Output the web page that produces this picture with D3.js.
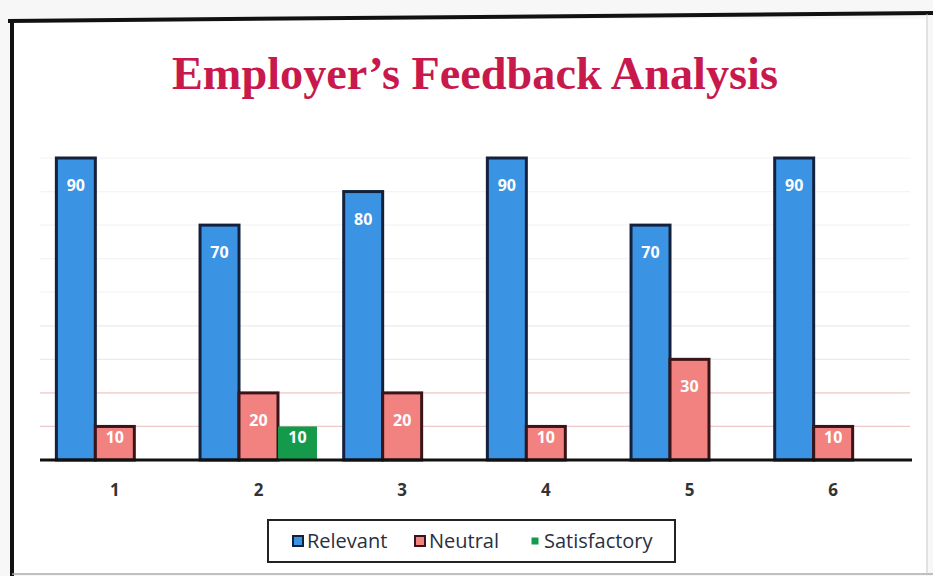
<!DOCTYPE html>
<meta charset="utf-8">
<script src="https://d3js.org/d3.v7.min.js"></script>
<style>
    body { margin: 0; background: #f7f7f7; }
    text { font-family: "Open Sans", sans-serif; }
</style>
<div id="base"></div>
<script>
    // chart data
    var groups = ["1", "2", "3", "4", "5", "6"];
    var seriesNames = ["Relevant", "Neutral", "Satisfactory"];
    var relevant = [90, 70, 80, 90, 70, 90];
    var neutral = [10, 20, 20, 10, 30, 10];
    var satisfactory = [null, 10, null, null, null, null];
    var colors = ["#3b93e4", "#f2827f", "#159a4c"];
    var strokes = ["#14213d", "#3a1418", "none"];

    var width = 933, height = 576;

    var svg = d3.select("#base")
        .append("svg")
        .attr("width", width)
        .attr("height", height);

    // slide frame
    svg.append("rect")
        .attr("x", 12).attr("y", 19)
        .attr("width", 914).attr("height", 556)
        .attr("fill", "white");
    svg.append("line")
        .attr("x1", 8).attr("y1", 21).attr("x2", 933).attr("y2", 13)
        .attr("stroke", "#111").attr("stroke-width", 4);
    svg.append("line")
        .attr("x1", 12).attr("y1", 19).attr("x2", 12).attr("y2", 576)
        .attr("stroke", "#111").attr("stroke-width", 4);
    svg.append("line")
        .attr("x1", 12).attr("y1", 574).attr("x2", 933).attr("y2", 574)
        .attr("stroke", "#aaa").attr("stroke-width", 1.5);
    svg.append("line")
        .attr("x1", 927).attr("y1", 14).attr("x2", 927).attr("y2", 574)
        .attr("stroke", "#ccc").attr("stroke-width", 1);

    // title
    svg.append("text")
        .attr("x", 475)
        .attr("y", 89)
        .attr("text-anchor", "middle")
        .style("font-family", "'Liberation Serif', 'Times New Roman', serif")
        .style("font-weight", "bold")
        .style("font-size", "46px")
        .attr("textLength", 606)
        .attr("lengthAdjust", "spacingAndGlyphs")
        .attr("fill", "#c8194c")
        .text("Employer\u2019s Feedback Analysis");

    var x0 = d3.scaleBand()
        .domain(groups)
        .range([43, 905])
        .paddingInner(0.186)
        .paddingOuter(0.093);

    var x1 = d3.scaleBand()
        .domain(seriesNames)
        .range([0, x0.bandwidth()]);

    var y = d3.scaleLinear()
        .domain([0, 90])
        .range([460, 158]);

    // faint gridlines
    svg.append("g")
        .selectAll("line")
        .data(d3.range(10, 100, 10))
        .enter()
        .append("line")
        .attr("x1", 40).attr("x2", 910)
        .attr("y1", function (d) { return y(d); })
        .attr("y2", function (d) { return y(d); })
        .attr("stroke", function (d) { return d <= 20 ? "#ecc8c8" : (d <= 40 ? "#ebebeb" : "#f4f4f4"); })
        .attr("stroke-width", 1.2);

    var rows = [];
    groups.forEach(function (g, i) {
        [relevant[i], neutral[i], satisfactory[i]].forEach(function (v, s) {
            if (v != null) rows.push({ group: g, series: s, value: v });
        });
    });

    var bars = svg.append("g");
    bars.selectAll("rect")
        .data(rows)
        .enter()
        .append("rect")
        .attr("x", function (d) { return x0(d.group) + x1(seriesNames[d.series]); })
        .attr("y", function (d) { return y(d.value); })
        .attr("width", x1.bandwidth())
        .attr("height", function (d) { return y(0) - y(d.value); })
        .attr("fill", function (d) { return colors[d.series]; })
        .attr("stroke", function (d) { return strokes[d.series]; })
        .attr("stroke-width", 3);

    bars.selectAll("text")
        .data(rows)
        .enter()
        .append("text")
        .attr("x", function (d) { return x0(d.group) + x1(seriesNames[d.series]) + x1.bandwidth() / 2; })
        .attr("y", function (d) {
            var h = y(0) - y(d.value);
            return y(d.value) + (h < 40 ? h * 0.3 : 27) + 6;
        })
        .attr("text-anchor", "middle")
        .attr("fill", "white")
        .style("font-weight", "bold")
        .style("font-size", "16px")
        .text(function (d) { return d.value; });

    // baseline + category labels
    svg.append("line")
        .attr("x1", 40).attr("x2", 912)
        .attr("y1", y(0)).attr("y2", y(0))
        .attr("stroke", "#111").attr("stroke-width", 3);

    var xAxis = svg.append("g")
        .attr("transform", "translate(0," + (y(0) + 2) + ")")
        .call(d3.axisBottom(x0).tickSize(0).tickPadding(22));
    xAxis.select(".domain").remove();
    xAxis.selectAll("text")
        .style("font-family", "'Open Sans', sans-serif")
        .style("font-size", "17px")
        .style("font-weight", "bold")
        .attr("fill", "#333");

    // legend
    var legend = svg.append("g").attr("transform", "translate(268,520)");
    legend.append("rect")
        .attr("width", 407).attr("height", 42)
        .attr("fill", "white")
        .attr("stroke", "#222").attr("stroke-width", 2);
    var legX = [25, 147, 262];
    seriesNames.forEach(function (name, i) {
        var size = i === 2 ? 7 : 10;
        legend.append("rect")
            .attr("x", legX[i] + (10 - size) / 2)
            .attr("y", 16 + (10 - size) / 2)
            .attr("width", size).attr("height", size)
            .attr("fill", colors[i])
            .attr("stroke", strokes[i])
            .attr("stroke-width", 2);
        legend.append("text")
            .attr("x", legX[i] + 14)
            .attr("y", 28)
            .style("font-size", "20px")
            .attr("fill", "#2a2f40")
            .text(name);
    });
</script>
